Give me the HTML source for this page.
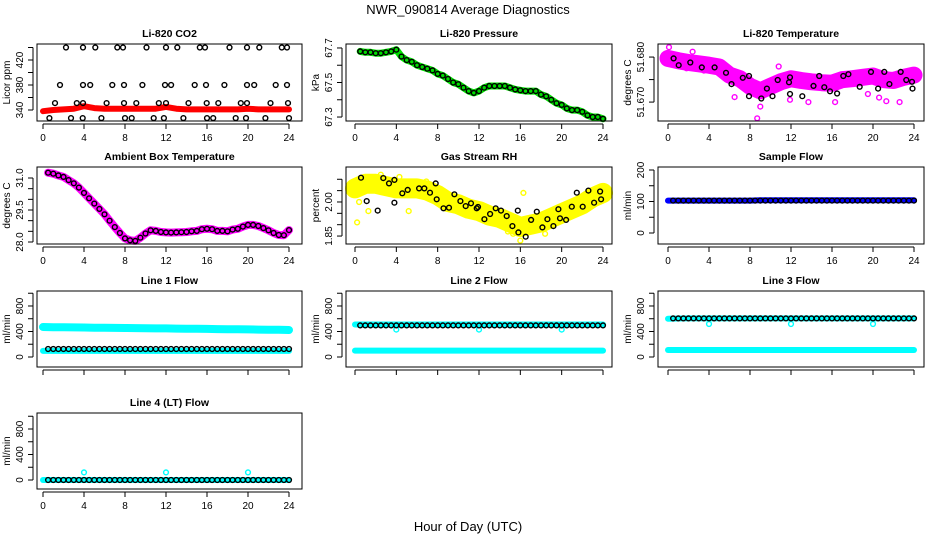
<!DOCTYPE html>
<html><head><meta charset="utf-8"><style>
html,body{margin:0;padding:0;background:#fff;}
svg{display:block;font-family:"Liberation Sans",Arial,sans-serif;}
</style></head><body>
<svg id="c" width="936" height="540" viewBox="0 0 936 540" xmlns="http://www.w3.org/2000/svg">
<rect width="936" height="540" fill="#fff"/>
<text x="468" y="14" font-size="13" text-anchor="middle">NWR_090814  Average Diagnostics</text>
<text x="468" y="531" font-size="13" text-anchor="middle">Hour of Day (UTC)</text>
</svg>
<script>
const HALF=[0.5,1,1.5,2,2.5,3,3.5,4,4.5,5,5.5,6,6.5,7,7.5,8,8.5,9,9.5,10,10.5,11,11.5,12,12.5,13,13.5,14,14.5,15,15.5,16,16.5,17,17.5,18,18.5,19,19.5,20,20.5,21,21.5,22,22.5,23,23.5,24];
const HOURS=[0,1,2,3,4,5,6,7,8,9,10,11,12,13,14,15,16,17,18,19,20,21,22,23,24];
const XTICKS=[0,4,8,12,16,20,24];
// CO2
const co2Band=[338,340,341,342,346,343,342,342,342,342,342,342,345,342,341,341,341,341,341,341,342,341,341,341,341];
const co2T=[2.24,3.9,5.1,7.25,7.8,10.1,12.0,13.1,15.3,15.8,18.2,19.9,21.1,23.3,23.8,1.66,3.9,4.6,6.76,7.9,9.7,11.9,12.5,14.8,15.9,17.7,19.9,20.6,22.7,23.8,1.17,3.3,3.9,6.2,7.9,9.1,11.3,12.0,14.2,15.97,17.1,19.3,19.9,22.2,23.9,0.62,2.73,3.87,5.7,8.0,8.65,10.8,11.8,13.7,16.0,16.6,18.8,19.8,21.7,24.0];
const co2V=[440,440,440,440,440,440,440,440,440,440,440,440,440,440,440,380,380,380,380,380,380,380,380,380,380,380,380,380,380,380,351,351,351,351,351,351,351,351,351,351,351,351,351,351,351,327,327,327,327,327,327,327,327,327,327,327,327,327,327,327];
// Pressure
const presV=[67.68,67.675,67.675,67.67,67.67,67.675,67.68,67.69,67.65,67.63,67.62,67.60,67.59,67.58,67.57,67.55,67.54,67.52,67.50,67.49,67.47,67.45,67.44,67.45,67.47,67.48,67.48,67.48,67.48,67.47,67.46,67.455,67.45,67.45,67.45,67.43,67.42,67.40,67.38,67.37,67.35,67.34,67.34,67.33,67.31,67.30,67.30,67.29];
// Li-820 temperature
const tempBand=[51.6797,51.6792,51.6788,51.6785,51.6782,51.6778,51.6760,51.6752,51.6735,51.6725,51.6735,51.6745,51.6752,51.6748,51.6745,51.6743,51.6742,51.6750,51.6752,51.6755,51.6758,51.6750,51.6748,51.6755,51.6760];
const tempT=[0.55,1.04,2.18,3.3,4.55,5.66,6.2,7.3,7.9,7.9,9.1,9.65,10.2,10.7,11.8,11.9,11.9,13.1,14.2,14.75,15.25,15.8,16.5,17.1,17.6,18.7,19.8,20.5,21.1,21.6,22.7,23.25,23.8,23.85];
const tempV=[51.6797,51.6782,51.6788,51.6777,51.6777,51.6765,51.6740,51.6754,51.6758,51.6713,51.6708,51.6730,51.6713,51.6749,51.6744,51.6755,51.6718,51.6713,51.6736,51.6758,51.6733,51.6724,51.6719,51.6758,51.6762,51.6734,51.6767,51.6730,51.6767,51.6740,51.6767,51.6749,51.6745,51.6730];
const tempOutT=[0.1,2.4,6.5,8.7,9.0,10.8,11.9,13.7,16.3,20.6,22.6,21.3,19.5,3.5,1.8];
const tempOutV=[51.6822,51.6812,51.6711,51.6664,51.6690,51.6779,51.6705,51.6700,51.6700,51.6710,51.6700,51.6702,51.6718,51.6770,51.6775];
// Ambient
const ambV=[31.25,31.2,31.12,31.05,30.9,30.75,30.55,30.3,30.05,29.8,29.55,29.3,29.0,28.7,28.42,28.17,28.08,28.05,28.2,28.4,28.55,28.52,28.47,28.45,28.44,28.45,28.46,28.47,28.5,28.52,28.6,28.62,28.6,28.52,28.52,28.5,28.58,28.62,28.72,28.8,28.8,28.75,28.65,28.55,28.42,28.33,28.32,28.56];
// RH
const rhBand=[2.06,2.08,2.08,2.07,2.06,2.06,2.06,2.05,2.03,2.0,1.99,1.97,1.96,1.94,1.93,1.91,1.89,1.90,1.91,1.93,1.95,1.97,1.99,2.02,2.04];
const rhT=[0.58,1.13,2.2,2.74,3.29,3.81,3.81,4.58,5.1,6.2,6.71,7.26,7.81,7.91,8.56,9.1,9.62,10.2,10.71,11.23,11.78,11.9,12.52,13.07,13.62,14.13,14.68,15.23,15.75,15.81,16.52,17.04,17.59,18.14,18.62,19.2,19.68,19.84,20.43,20.98,21.46,22.04,22.59,23.14,23.72,23.82];
const rhV=[2.107,2.004,1.962,2.105,2.082,2.097,1.997,2.038,2.053,2.060,2.060,2.041,2.082,2.012,1.972,1.975,2.034,2.004,1.982,1.994,1.972,1.978,1.924,1.947,1.972,1.962,1.938,1.894,1.962,1.866,1.847,1.921,1.957,1.888,1.924,1.894,1.968,1.928,1.921,1.979,2.041,1.979,2.050,1.997,2.046,2.012];
const rhOutT=[0.2,1.3,5.2,9.2,16,14.8,15.3,18.4,16.3,2.5,6.9,0.4,4.3];
const rhOutV=[1.91,1.96,1.96,1.99,1.83,1.87,1.86,1.86,2.04,2.12,2.09,2.00,2.11];
// Flows
const sampleV=[103,103,103,103,103,103,103,103,103,103,103,103,103,103,103,103,103,103,103,103,103,103,103,103,103,103,103,103,103,103,103,103,103,103,103,103,103,103,103,103,103,103,103,103,103,103,103,103];
const sampleBand=[103,103,103,103,103,103,103,103,103,104,104,104,104,104,104,104,104,104,104,104,104,104,104,104,104];
const line1Black=[125,125,125,125,125,125,125,125,125,125,125,125,125,125,125,125,125,125,125,125,125,125,125,125,125,125,125,125,125,125,125,125,125,125,125,125,125,125,125,125,125,125,125,125,125,125,125,125];
const line1Top=[470,468,466,464,462,460,458,456,455,453,451,449,448,446,444,442,440,438,436,434,432,430,428,426,424];
const line1Low=[95,95,95,95,95,95,95,95,95,95,95,95,95,95,95,95,95,95,95,95,95,95,95,95,95];
const line2Black=[495,495,495,495,495,495,495,495,495,495,495,495,495,495,495,495,495,495,495,495,495,495,495,495,495,495,495,495,495,495,495,495,495,495,495,495,495,495,495,495,495,495,495,495,495,495,495,495];
const line2Top=[510,510,510,510,510,510,510,510,510,510,510,510,510,510,510,510,510,510,510,510,510,510,510,510,510];
const line2Low=[100,100,100,100,100,100,100,100,100,100,100,100,100,100,100,100,100,100,100,100,100,100,100,100,100];
const line3Black=[605,605,605,605,605,605,605,605,605,605,605,605,605,605,605,605,605,605,605,605,605,605,605,605,605,605,605,605,605,605,605,605,605,605,605,605,605,605,605,605,605,605,605,605,605,605,605,605];
const line3Top=[600,603,605,605,605,605,605,605,605,605,605,605,605,605,605,605,605,605,605,605,605,605,605,605,605];
const line3Low=[110,110,110,110,110,110,110,110,110,110,110,110,110,110,110,110,110,110,110,110,110,110,110,110,110];
const line4Black=[0,0,0,0,0,0,0,0,0,0,0,0,0,0,0,0,0,0,0,0,0,0,0,0,0,0,0,0,0,0,0,0,0,0,0,0,0,0,0,0,0,0,0,0,0,0,0,0];
const line4Band=[0,0,0,0,0,0,0,0,0,0,0,0,0,0,0,0,0,0,0,0,0,0,0,0,0];
const dipT=[4,12,20];
const line2Dip=[430,430,430];
const line3Dip=[518,518,518];
const line4Dip=[120,120,120];

const svg=document.getElementById('c');
const NS='http://www.w3.org/2000/svg';
function mk(tag,attrs,parent){const e=document.createElementNS(NS,tag);for(const k in attrs)e.setAttribute(k,attrs[k]);(parent||svg).appendChild(e);return e;}

const COLS=[{l:37,r:302,x0:43,x24:289},{l:346,r:612,x0:355,x24:603},{l:658,r:924,x0:668,x24:914}];
const ROWS=[{t:44,b:121},{t:167,b:244},{t:291,b:367},{t:413,b:489}];

function panel(o){
  const C=COLS[o.col],R=ROWS[o.row];
  const g=mk('g',{});
  
  
  const xs=t=>C.x0+(C.x24-C.x0)*t/24;
  const ys=v=>R.b-(v-o.lo)/(o.hi-o.lo)*(R.b-R.t);
  const plot=mk('g',{},g);
  
  
  (o.bands||[]).forEach(b=>{
    const pts=b.t.map((t,i)=>xs(t).toFixed(1)+','+ys(b.v[i]).toFixed(1)).join(' ');
    const pl=mk('polyline',{points:pts,fill:'none',stroke:b.c,'stroke-width':b.w,'stroke-linejoin':'round','stroke-linecap':'round'},plot);
    
    
  });
  (o.pts||[]).forEach(p=>{
    p.t.forEach((t,i)=>{
      const c=mk('circle',{cx:xs(t).toFixed(1),cy:ys(p.v[i]).toFixed(1),r:p.r||2.4,fill:'none',stroke:p.c,'stroke-width':p.sw||1.4},plot);
      
      
    });
  });
  mk('rect',{x:C.l,y:R.t,width:C.r-C.l,height:R.b-R.t,fill:'none',stroke:'#000','stroke-width':1},g);
  const ax=mk('g',{},g);
  
  
  const ay=R.b+3;
  mk('line',{x1:xs(0),x2:xs(24),y1:ay,y2:ay,stroke:'#000'},ax);
  XTICKS.forEach(t=>{
    mk('line',{x1:xs(t),x2:xs(t),y1:ay,y2:ay+5,stroke:'#000'},ax);
    if(o.xlab){const tx=mk('text',{x:xs(t),y:R.b+20,'font-size':10,'text-anchor':'middle'},ax);tx.textContent=t;
      
      }
  });
  const yg=mk('g',{},g);
  
  
  const axx=C.l-4;
  mk('line',{x1:axx,x2:axx,y1:ys(o.ticks[0]),y2:ys(o.ticks[o.ticks.length-1]),stroke:'#000'},yg);
  o.ticks.forEach(v=>mk('line',{x1:axx-5,x2:axx,y1:ys(v),y2:ys(v),stroke:'#000'},yg));
  o.labels.forEach((v,i)=>{
    const y=ys(v),x=C.l-14;
    const tx=mk('text',{x:x,y:y,'font-size':10,'text-anchor':'middle',transform:'rotate(-90 '+x+' '+y+')'},yg);
    tx.textContent=o.labelText[i];
    
    
  });
  const yy=(R.t+R.b)/2,xx=C.l-27;
  const yt=mk('text',{x:xx,y:yy,'font-size':10,'text-anchor':'middle',transform:'rotate(-90 '+xx+' '+yy+')'},g);
  yt.textContent=o.ytitle;
  
  
  const tt=mk('text',{x:(C.l+C.r)/2,y:R.t-7,'font-size':10.5,'font-weight':'bold','text-anchor':'middle'},g);
  tt.textContent=o.title;
  
  
}

panel({name:'co2-panel',col:0,row:0,title:'Li-820 CO2',ytitle:'Licor ppm',lo:322.4,hi:445.6,xlab:true,
  ticks:[340,360,380,400,420,440],labels:[340,380,420],labelText:['340','380','420'],
  bands:[{t:HOURS,v:co2Band,c:'#ff0000',w:6,n:'co2-series'}],
  pts:[{t:co2T,v:co2V,c:'#000',n:'co2-average-point'}]});
panel({name:'pressure-panel',col:1,row:0,title:'Li-820 Pressure',ytitle:'kPa',lo:67.277,hi:67.723,xlab:true,
  ticks:[67.3,67.4,67.5,67.6,67.7],labels:[67.3,67.5,67.7],labelText:['67.3','67.5','67.7'],
  bands:[{t:HALF,v:presV,c:'#00dd00',w:7,n:'pressure-series'}],
  pts:[{t:HALF,v:presV,c:'#000',n:'pressure-average-point'}]});
panel({name:'temperature-panel',col:2,row:0,title:'Li-820 Temperature',ytitle:'degrees C',lo:51.6658,hi:51.6829,xlab:true,
  ticks:[51.670,51.675,51.680],labels:[51.670,51.680],labelText:['51.670','51.680'],
  bands:[{t:HOURS,v:tempBand,c:'#ff00ff',w:17,n:'temperature-series'}],
  pts:[{t:tempOutT,v:tempOutV,c:'#ff00ff',n:'temperature-outlier'},{t:tempT,v:tempV,c:'#000',n:'temperature-average-point'}]});
panel({name:'ambient-panel',col:0,row:1,title:'Ambient Box Temperature',ytitle:'degrees C',lo:27.906,hi:31.516,xlab:true,
  ticks:[28,28.5,29,29.5,30,30.5,31],labels:[28,29.5,31],labelText:['28.0','29.5','31.0'],
  bands:[{t:HALF,v:ambV,c:'#ff00ff',w:8,n:'ambient-series'}],
  pts:[{t:HALF,v:ambV,c:'#000',n:'ambient-average-point'}]});
panel({name:'rh-panel',col:1,row:1,title:'Gas Stream RH',ytitle:'percent',lo:1.815,hi:2.154,xlab:true,
  ticks:[1.85,1.90,1.95,2.00,2.05,2.10],labels:[1.85,2.00],labelText:['1.85','2.00'],
  bands:[{t:HOURS,v:rhBand,c:'#ffff00',w:20,n:'rh-series'}],
  pts:[{t:rhOutT,v:rhOutV,c:'#ffff00',n:'rh-outlier'},{t:rhT,v:rhV,c:'#000',n:'rh-average-point'}]});
panel({name:'sample-flow-panel',col:2,row:1,title:'Sample Flow',ytitle:'ml/min',lo:-34.9,hi:209.5,xlab:true,
  ticks:[0,50,100,150,200],labels:[0,100,200],labelText:['0','100','200'],
  bands:[{t:HOURS,v:sampleBand,c:'#0000ff',w:6,n:'sample-flow-series'}],
  pts:[{t:HALF,v:sampleV,c:'#000',n:'sample-flow-average-point'}]});
const FT=[0,200,400,600,800,1000],FL=[0,400,800],FLT=['0','400','800'];
panel({name:'line1-flow-panel',col:0,row:2,title:'Line 1 Flow',ytitle:'ml/min',lo:-157,hi:1035,xlab:false,
  ticks:FT,labels:FL,labelText:FLT,
  bands:[{t:HOURS,v:line1Top,c:'#00ffff',w:8,n:'line1-flow-series'},{t:HOURS,v:line1Low,c:'#00ffff',w:6,n:'line1-low-series'}],
  pts:[{t:HALF,v:line1Black,c:'#000',n:'line1-average-point'}]});
panel({name:'line2-flow-panel',col:1,row:2,title:'Line 2 Flow',ytitle:'ml/min',lo:-157,hi:1035,xlab:false,
  ticks:FT,labels:FL,labelText:FLT,
  bands:[{t:HOURS,v:line2Top,c:'#00ffff',w:6,n:'line2-flow-series'},{t:HOURS,v:line2Low,c:'#00ffff',w:6,n:'line2-low-series'}],
  pts:[{t:dipT,v:line2Dip,c:'#00ffff',n:'line2-dip-point'},{t:HALF,v:line2Black,c:'#000',n:'line2-average-point'}]});
panel({name:'line3-flow-panel',col:2,row:2,title:'Line 3 Flow',ytitle:'ml/min',lo:-157,hi:1035,xlab:false,
  ticks:FT,labels:FL,labelText:FLT,
  bands:[{t:HOURS,v:line3Top,c:'#00ffff',w:6,n:'line3-flow-series'},{t:HOURS,v:line3Low,c:'#00ffff',w:6,n:'line3-low-series'}],
  pts:[{t:dipT,v:line3Dip,c:'#00ffff',n:'line3-dip-point'},{t:HALF,v:line3Black,c:'#000',n:'line3-average-point'}]});
panel({name:'line4-flow-panel',col:0,row:3,title:'Line 4 (LT) Flow',ytitle:'ml/min',lo:-141,hi:1051,xlab:true,
  ticks:FT,labels:FL,labelText:FLT,
  bands:[{t:HOURS,v:line4Band,c:'#00ffff',w:6,n:'line4-flow-series'}],
  pts:[{t:dipT,v:line4Dip,c:'#00ffff',n:'line4-dip-point'},{t:HALF,v:line4Black,c:'#000',n:'line4-average-point'}]});
</script>
</body></html>
